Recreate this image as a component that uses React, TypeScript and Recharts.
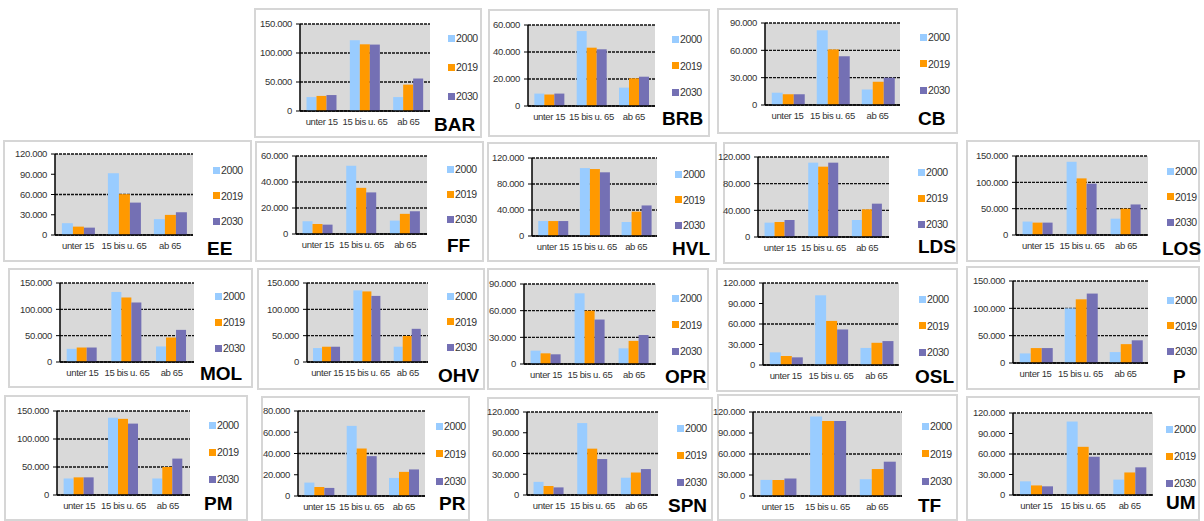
import { Bar, BarChart, CartesianGrid, XAxis, YAxis } from 'recharts';

const categories = ['unter 15', '15 bis u. 65', 'ab 65'];
const years = ['2000', '2019', '2030'];
const districts = ['BAR', 'BRB', 'CB', 'EE', 'FF', 'HVL', 'LDS', 'LOS', 'MOL', 'OHV', 'OPR', 'OSL', 'P', 'PM', 'PR', 'SPN', 'TF', 'UM'];

// one row per district: [unter 15, 15 bis u. 65, ab 65]
const v2000 = [
  [24000, 122000, 24000], [9200, 55500, 13600], [13500, 82000, 17000],
  [17500, 91500, 23500], [9800, 52500, 10300], [23000, 104500, 21500],
  [21500, 111500, 25500], [25500, 139000, 31000], [25000, 133000, 29500],
  [26500, 136000, 29000], [15000, 79500, 17600], [18500, 102000, 25000],
  [17500, 100000, 20000], [29500, 138000, 29500], [12600, 66000, 17000],
  [19000, 104000, 25000], [23000, 113500, 24000], [20000, 107500, 22500],
];
const v2019 = [
  [26000, 115000, 45500], [8500, 43200, 20500], [11800, 61000, 25500],
  [12400, 60500, 29800], [7700, 35500, 15500], [23000, 103000, 37500],
  [22500, 105500, 41500], [23500, 107500, 50000], [27500, 122500, 46500],
  [29000, 134000, 49500], [12000, 60000, 26000], [13000, 64500, 32500],
  [27300, 116500, 34500], [31500, 136000, 50000], [8500, 44700, 22700],
  [13000, 67000, 32500], [23000, 107000, 38500], [14000, 70500, 33000],
];
const v2030 = [
  [27500, 114500, 56000], [9200, 42000, 21700], [11800, 53500, 30000],
  [10900, 48000, 33700], [7200, 32000, 17500], [23000, 98000, 47000],
  [25500, 111500, 50000], [23500, 97500, 58000], [27500, 113000, 61000],
  [29000, 125500, 63000], [10900, 50000, 32600], [11200, 52000, 35000],
  [27300, 127000, 41500], [31500, 127500, 65000], [7600, 37500, 25000],
  [11000, 52000, 37500], [25000, 107000, 49000], [12700, 56000, 40500],
];
const axisMax = [150000, 60000, 90000, 120000, 60000, 120000, 120000, 150000, 150000, 150000, 90000, 120000, 150000, 150000, 80000, 120000, 120000, 120000];
const axisStep = [50000, 20000, 30000, 30000, 20000, 40000, 40000, 50000, 50000, 50000, 30000, 30000, 50000, 50000, 20000, 30000, 30000, 30000];

const colors = ['#99ccff', '#ff9900', '#7470b4'];
const FONT = '"Liberation Sans", Arial, sans-serif';

// page layout per panel: box [l,t,r,b], plot [x0,yTop,x1,yZero], legend [x,y,step], title [x,cy]
const layout = [
  { box: [254, 8, 482, 138], plot: [300, 24, 430, 111], leg: [448, 38, 29], title: [434, 124] },
  { box: [488, 9, 710, 137], plot: [528, 25, 655, 106], leg: [672, 39, 26.5], title: [662, 118] },
  { box: [717, 8, 958, 134], plot: [765, 23, 900, 105], leg: [920, 37, 26.5], title: [918, 118] },
  { box: [3, 140, 252, 262], plot: [55, 154, 193, 235], leg: [213, 170, 25.5], title: [207, 248] },
  { box: [255, 141, 484, 262], plot: [296, 156, 427, 234], leg: [447, 169, 25], title: [447, 245] },
  { box: [487, 142, 717, 262], plot: [532, 158, 657, 236], leg: [675, 174, 25.5], title: [672, 248] },
  { box: [723, 142, 958, 264], plot: [758, 157, 889, 237], leg: [918, 172, 26], title: [918, 246] },
  { box: [966, 140, 1200, 262], plot: [1016, 156, 1148, 235], leg: [1167, 171, 25.5], title: [1162, 248] },
  { box: [8, 268, 253, 388], plot: [60, 283, 194, 362], leg: [215, 296, 26], title: [200, 373] },
  { box: [257, 268, 485, 390], plot: [307, 283, 428, 362], leg: [447, 296, 25.5], title: [438, 375] },
  { box: [487, 268, 709, 390], plot: [524, 284, 656, 364], leg: [672, 298, 26.5], title: [665, 376] },
  { box: [716, 268, 958, 392], plot: [763, 283, 899, 365], leg: [919, 299, 26.5], title: [915, 376] },
  { box: [966, 266, 1200, 390], plot: [1013, 281, 1148, 363], leg: [1167, 300, 25.5], title: [1173, 376] },
  { box: [4, 395, 248, 521], plot: [57, 411, 190, 495], leg: [209, 425, 27], title: [204, 503] },
  { box: [261, 396, 470, 521], plot: [298, 411, 425, 496], leg: [436, 426, 27.5], title: [439, 503] },
  { box: [487, 397, 713, 521], plot: [527, 412, 658, 495], leg: [677, 428, 27], title: [668, 505] },
  { box: [717, 394, 958, 521], plot: [753, 412, 902, 496], leg: [922, 426, 27.5], title: [918, 505] },
  { box: [966, 396, 1200, 521], plot: [1013, 413, 1153, 495], leg: [1166, 429, 27], title: [1166, 502] },
];

const fmt = (n: number) => String(n).replace(/\B(?=(\d{3})+(?!\d))/g, '.');
const tickStyle = { fontSize: 9.5, fill: '#333', fontFamily: FONT, letterSpacing: -0.35 };

function Panel({ i }: { i: number }) {
  const L = layout[i];
  const [x0, y0, x1, y1] = L.plot;
  const yW = 44;
  const mTop = 6;
  const xH = 20;
  const data = categories.map((c, k) => ({ cat: c, a: v2000[i][k], b: v2019[i][k], c: v2030[i][k] }));
  const ticks: number[] = [];
  for (let t = 0; t <= axisMax[i]; t += axisStep[i]) ticks.push(t);
  const [bl, bt, br, bb] = L.box;
  return (
    <>
      <div style={{ position: 'absolute', left: bl, top: bt, width: br - bl, height: bb - bt, border: '2px solid #d6d6d6', boxSizing: 'border-box', background: '#fff' }} />
      <div style={{ position: 'absolute', left: x0 - yW, top: y0 - mTop }}>
        <BarChart
          width={x1 - x0 + yW + 2}
          height={y1 - y0 + mTop + xH}
          data={data}
          margin={{ top: mTop, right: 2, left: 0, bottom: 0 }}
          barGap={0}
          barCategoryGap="15%"
        >
          <CartesianGrid vertical={false} fill="#d9d9d9" fillOpacity={1} stroke="#111" strokeDasharray="3 1" strokeWidth={1.4} />
          <XAxis dataKey="cat" height={xH} interval={0} tickLine={false} tickSize={4} tickMargin={3} axisLine={{ stroke: '#000', strokeWidth: 1.5 }} tick={tickStyle} />
          <YAxis width={yW} domain={[0, axisMax[i]]} ticks={ticks} tickFormatter={fmt} tickSize={4} tickMargin={4} axisLine={{ stroke: '#000', strokeWidth: 1.5 }} tickLine={{ stroke: '#000' }} tick={tickStyle} />
          <Bar dataKey="a" fill={colors[0]} isAnimationActive={false} />
          <Bar dataKey="b" fill={colors[1]} isAnimationActive={false} />
          <Bar dataKey="c" fill={colors[2]} isAnimationActive={false} />
        </BarChart>
      </div>
      {years.map((y, k) => (
        <div key={y} style={{ position: 'absolute', left: L.leg[0], top: L.leg[1] + k * L.leg[2] - 6, height: 12, display: 'flex', alignItems: 'center', fontFamily: FONT, fontSize: 10.5, letterSpacing: -0.4, color: '#333' }}>
          <span style={{ display: 'inline-block', width: 7, height: 7, background: colors[k], marginRight: 1 }} />
          {y}
        </div>
      ))}
      <div style={{ position: 'absolute', left: L.title[0], top: L.title[1] - 9.3, fontFamily: FONT, fontWeight: 700, fontSize: 19, lineHeight: '19px', color: '#000', whiteSpace: 'nowrap' }}>
        {districts[i]}
      </div>
    </>
  );
}

export default function App() {
  return (
    <div style={{ position: 'absolute', left: 0, top: 0, width: 1204, height: 521, background: '#fff', overflow: 'hidden' }}>
      {districts.map((d, i) => (
        <Panel key={d} i={i} />
      ))}
    </div>
  );
}
